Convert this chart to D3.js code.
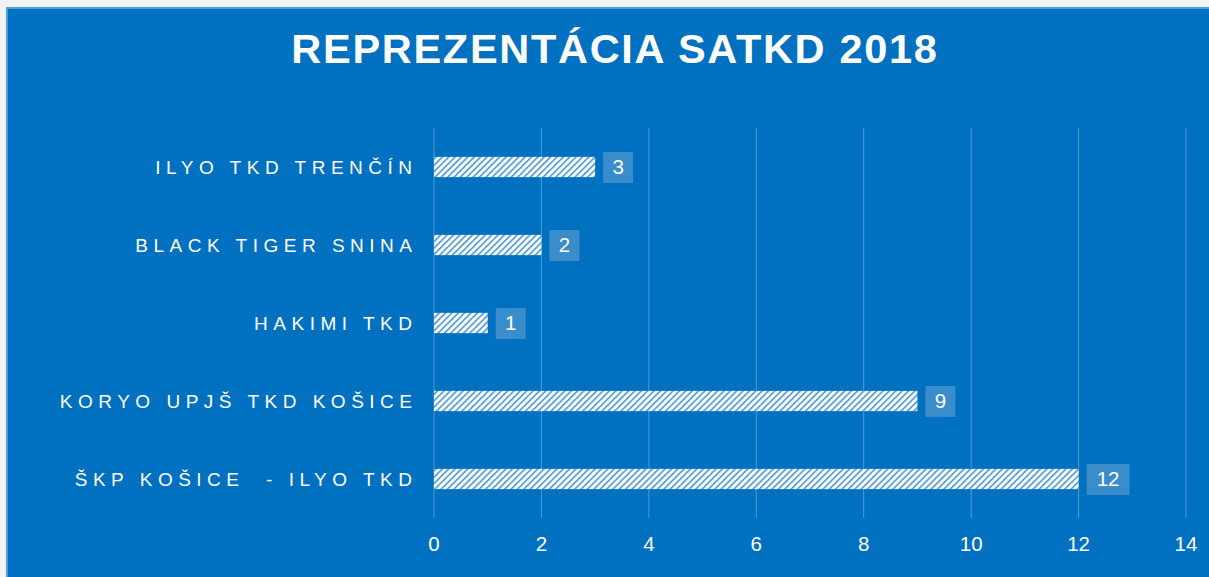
<!DOCTYPE html>
<html>
<head>
<meta charset="utf-8">
<script src="https://cdn.jsdelivr.net/npm/d3@7"></script>
<style>
  body { margin: 0; background: #f1f2f4; }
  svg { display: block; }
</style>
</head>
<body>
<div id="vizcontainer"></div>
<script>
// data
const clubs = ['ILYO TKD TRENČÍN', 'BLACK TIGER SNINA', 'HAKIMI TKD', 'KORYO UPJŠ TKD KOŠICE', 'ŠKP KOŠICE  - ILYO TKD'];
const athletes = [3, 2, 1, 9, 12];
const ticks = [0, 2, 4, 6, 8, 10, 12, 14];
const title = 'REPREZENTÁCIA SATKD 2018';

const
  width = 1209,
  height = 577,
  panel = { x: 7, y: 8 },
  plot = { left: 434, right: 1186, top: 128, bottom: 518 },
  blue = '#0070c0',
  labelSpacing = 5.5
  ;

const data = clubs.map((c, i) => ({ club: c, value: athletes[i] }));

const svg = d3.select('#vizcontainer')
  .append('svg')
  .attr('width', width)
  .attr('height', height);

const defs = svg.append('defs');
const pat = defs.append('pattern')
  .attr('id', 'hatch')
  .attr('patternUnits', 'userSpaceOnUse')
  .attr('width', 4.5)
  .attr('height', 4.5)
  .attr('patternTransform', 'rotate(45)');
pat.append('rect').attr('width', 4.5).attr('height', 4.5).attr('fill', '#ffffff');
pat.append('rect').attr('width', 1.6).attr('height', 4.5).attr('fill', '#4a9ad6');

// panel background with a lighter edge
svg.append('rect')
  .attr('x', panel.x)
  .attr('y', panel.y)
  .attr('width', width - panel.x + 2)
  .attr('height', height - panel.y + 2)
  .attr('fill', blue)
  .attr('stroke', '#4f9fd2')
  .attr('stroke-width', 2);

svg.append('text')
  .attr('x', 615)
  .attr('y', 63)
  .attr('text-anchor', 'middle')
  .style('font-family', 'Liberation Sans, Arial, sans-serif')
  .style('font-weight', 'bold')
  .style('font-size', '41.5px')
  .style('letter-spacing', '1.7px')
  .attr('fill', '#ffffff')
  .text(title);

const x = d3.scaleLinear()
  .domain([0, 14])
  .range([plot.left, plot.right]);

const y = d3.scaleBand()
  .domain(clubs)
  .range([plot.top, plot.bottom])
  .paddingInner(0.74)
  .paddingOuter(0.37);

// gridlines
svg.append('g')
  .selectAll('line')
  .data(ticks)
  .join('line')
  .attr('x1', d => x(d))
  .attr('x2', d => x(d))
  .attr('y1', plot.top)
  .attr('y2', plot.bottom)
  .attr('stroke', 'rgba(255,255,255,0.3)')
  .attr('stroke-width', 1);

// tick labels
svg.append('g')
  .selectAll('text')
  .data(ticks)
  .join('text')
  .attr('x', d => x(d))
  .attr('y', 551)
  .attr('text-anchor', 'middle')
  .attr('fill', '#ffffff')
  .style('font-family', 'Liberation Sans, Arial, sans-serif')
  .style('font-size', '20.5px')
  .text(d => d);

// category labels
svg.append('g')
  .selectAll('text')
  .data(data)
  .join('text')
  .attr('x', 412 + labelSpacing)
  .attr('y', d => y(d.club) + y.bandwidth() / 2)
  .attr('dy', '0.35em')
  .attr('text-anchor', 'end')
  .attr('fill', '#ffffff')
  .style('font-family', 'Liberation Sans, Arial, sans-serif')
  .style('font-size', '19px')
  .style('letter-spacing', labelSpacing + 'px')
  .style('white-space', 'pre')
  .text(d => d.club);

// bars
svg.append('g')
  .selectAll('rect')
  .data(data)
  .join('rect')
  .attr('x', x(0))
  .attr('y', d => y(d.club))
  .attr('width', d => x(d.value) - x(0))
  .attr('height', y.bandwidth())
  .attr('fill', 'url(#hatch)');

// value labels in boxes
const lab = svg.append('g')
  .selectAll('g')
  .data(data)
  .join('g')
  .attr('transform', d => `translate(${x(d.value) + 8},${y(d.club) + y.bandwidth() / 2})`);

lab.append('rect')
  .attr('x', 0)
  .attr('y', -15)
  .attr('height', 31)
  .attr('width', d => String(d.value).length > 1 ? 43 : 30)
  .attr('fill', '#3a8dcb');

lab.append('text')
  .attr('x', d => String(d.value).length > 1 ? 21.5 : 15)
  .attr('y', 0)
  .attr('dy', '0.36em')
  .attr('text-anchor', 'middle')
  .attr('fill', '#ffffff')
  .style('font-family', 'Liberation Sans, Arial, sans-serif')
  .style('font-size', '20.5px')
  .text(d => d.value);
</script>
</body>
</html>
